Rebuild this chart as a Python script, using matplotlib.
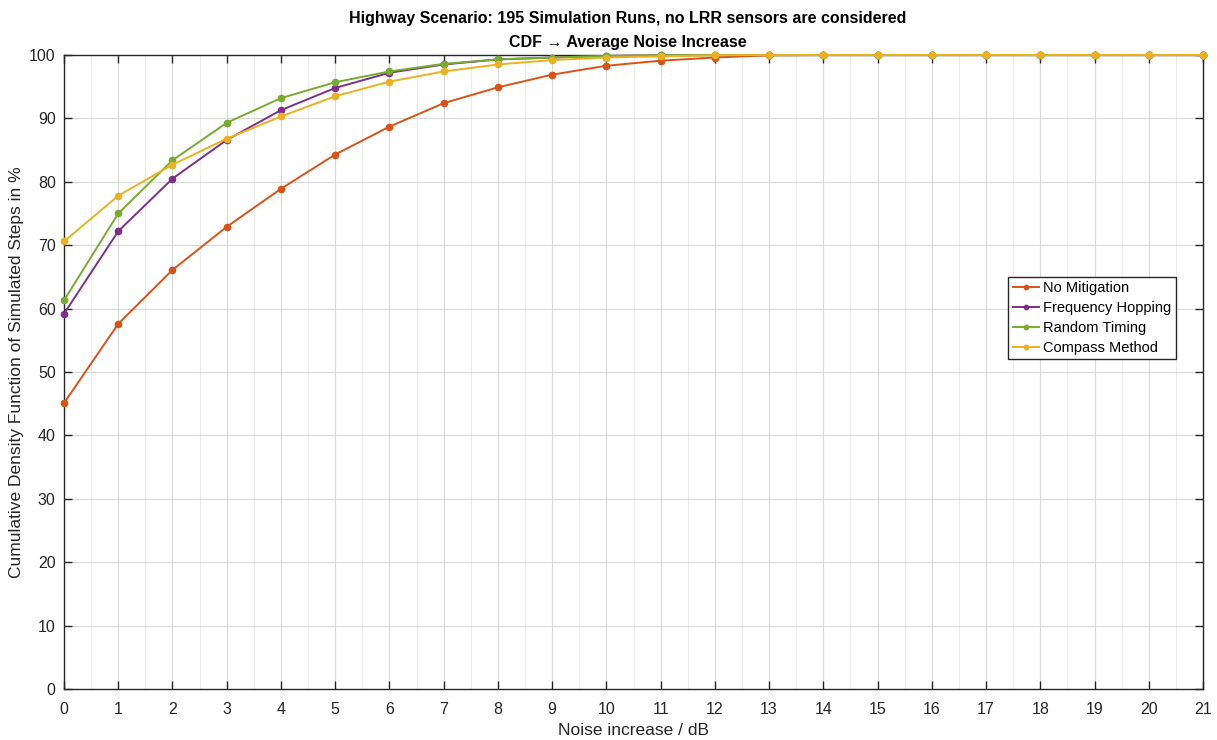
import matplotlib.pyplot as plt
import numpy as np
from matplotlib.ticker import MultipleLocator

plt.rcParams['font.family'] = ['Liberation Sans', 'DejaVu Sans']

noise_db = list(range(0, 22))

no_mitigation = [45.1, 57.6, 66.1, 72.9, 78.9, 84.3, 88.7, 92.4, 94.9, 96.9, 98.3,
                 99.1, 99.6, 99.95, 100, 100, 100, 100, 100, 100, 100, 100]
freq_hopping = [59.2, 72.2, 80.5, 86.6, 91.3, 94.8, 97.2, 98.5, 99.3, 99.6, 99.85,
                99.95, 100, 100, 100, 100, 100, 100, 100, 100, 100, 100]
random_timing = [61.3, 75.0, 83.4, 89.3, 93.2, 95.7, 97.4, 98.6, 99.3, 99.6, 99.85,
                 99.95, 100, 100, 100, 100, 100, 100, 100, 100, 100, 100]
compass = [70.6, 77.8, 82.7, 86.8, 90.3, 93.5, 95.8, 97.4, 98.5, 99.2, 99.6,
           99.8, 99.95, 100, 100, 100, 100, 100, 100, 100, 100, 100]

series = [
    ('No Mitigation', no_mitigation, '#D95319'),
    ('Frequency Hopping', freq_hopping, '#7E2F8E'),
    ('Random Timing', random_timing, '#77AC30'),
    ('Compass Method', compass, '#EDB120'),
]

fig = plt.figure(figsize=(12.17, 7.40), dpi=100)
ax = fig.add_axes([0.0526, 0.0689, 0.9359, 0.8568])

for label, vals, col in series:
    ax.plot(noise_db, vals, color=col, lw=1.4, marker='o', ms=4.5,
            mfc=col, mec=col, label=label, clip_on=False, zorder=3)

ax.set_xlim(0, 21)
ax.set_ylim(0, 100)
ax.xaxis.set_major_locator(MultipleLocator(1))
ax.xaxis.set_minor_locator(MultipleLocator(0.5))
ax.yaxis.set_major_locator(MultipleLocator(10))

ax.grid(which='major', color='#d9d9d9', lw=0.8)
ax.grid(which='minor', axis='x', color='#ececec', lw=0.8)
ax.set_axisbelow(True)

ax.tick_params(which='major', direction='in', length=6, width=1, color='#262626',
               top=True, right=True, labelsize=11.5, labelcolor='#262626')
ax.tick_params(axis='x', pad=9)
ax.tick_params(axis='y', pad=6)
ax.tick_params(which='minor', length=0, top=True, right=True)
for sp in ax.spines.values():
    sp.set_color('#262626')
    sp.set_linewidth(1)

ax.set_xlabel('Noise increase / dB', fontsize=12.5, color='#262626', labelpad=5)
ax.set_ylabel('Cumulative Density Function of Simulated Steps in %', fontsize=12.5,
              color='#262626', labelpad=4)

fig.text(0.5155, 0.975, 'Highway Scenario: 195 Simulation Runs, no LRR sensors are considered',
         ha='center', va='center', fontsize=11.5, fontweight='bold')
fig.text(0.5155, 0.943, 'CDF \u2192 Average Noise Increase',
         ha='center', va='center', fontsize=11.5, fontweight='bold')

leg = ax.legend(loc='upper left', bbox_to_anchor=(0.829, 0.650), fontsize=10.5,
                frameon=True, fancybox=False, edgecolor='#262626', framealpha=1,
                handlelength=1.8, handletextpad=0.3, borderpad=0.3, labelspacing=0.4,
                borderaxespad=0, markerscale=0.7)
leg.get_frame().set_linewidth(1)

fig.savefig('out.png', dpi=100)
